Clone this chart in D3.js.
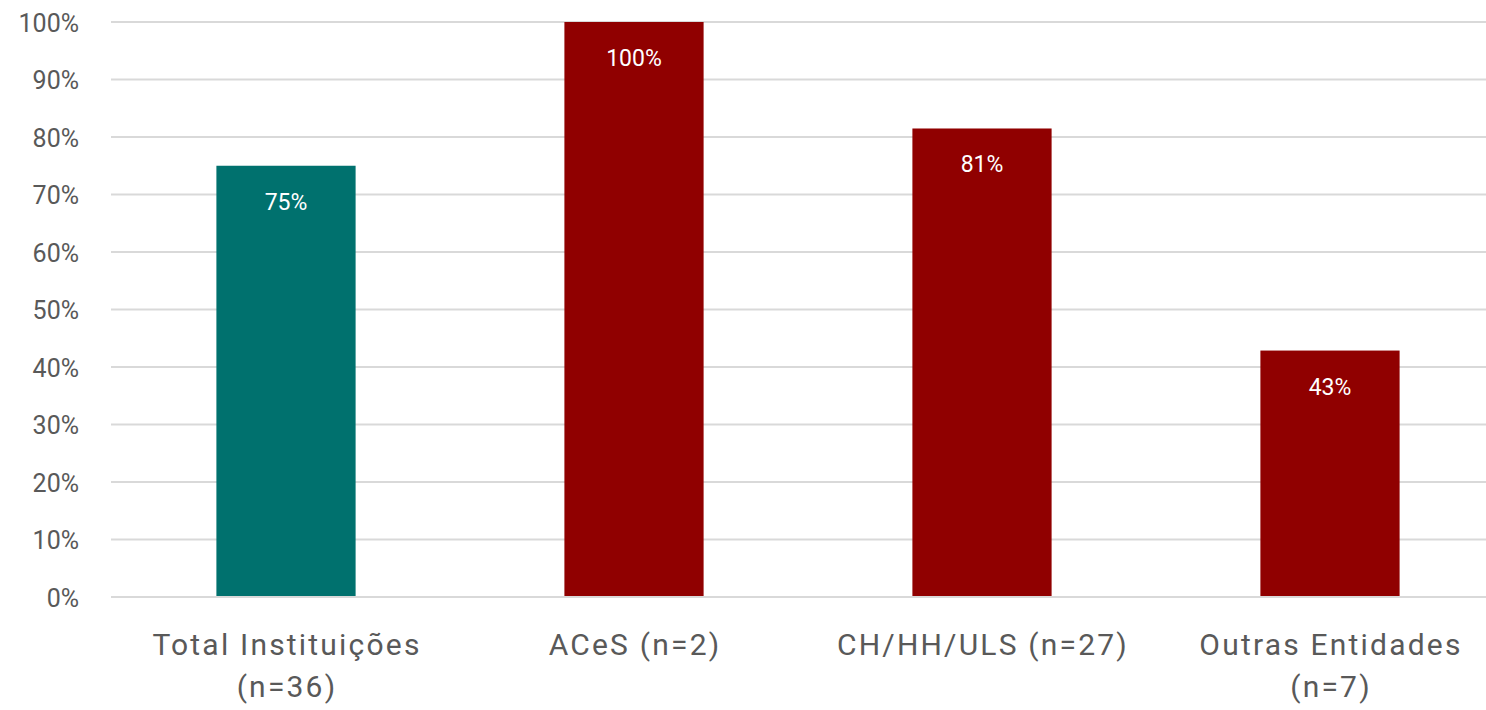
<!DOCTYPE html>
<html>
<head>
<meta charset="utf-8">
<script src="https://cdn.jsdelivr.net/npm/d3@7"></script>
<style>
  html, body { margin: 0; padding: 0; background: #fff; }
  svg { display: block; }
  text { font-family: Roboto, "Open Sans", sans-serif; }
</style>
</head>
<body>
<svg id="chart" width="1486" height="710"></svg>
<script>
// Share of institutions by type (%)
const categories = [
  ["Total Instituições", "(n=36)"],
  ["ACeS (n=2)"],
  ["CH/HH/ULS (n=27)"],
  ["Outras Entidades", "(n=7)"]
];
const values = [75, 100, 81.48, 42.86];
const barColors = ["#00716E", "#900000", "#900000", "#900000"];
const yTicks = [0, 10, 20, 30, 40, 50, 60, 70, 80, 90, 100];

const svg = d3.select("#chart");
const margin = { left: 112, right: -18, top: 22, bottom: 113 };
const width = 1486, height = 710;

const x = d3.scaleBand()
  .domain(d3.range(categories.length))
  .range([margin.left, width - margin.right])
  .paddingInner(0.6)
  .paddingOuter(0.3);

const y = d3.scaleLinear()
  .domain([0, 100])
  .range([height - margin.bottom, margin.top]);

// gridlines
svg.append("g")
  .selectAll("line")
  .data(yTicks)
  .join("line")
  .attr("x1", margin.left - 1)
  .attr("x2", width - margin.right)
  .attr("y1", d => y(d))
  .attr("y2", d => y(d))
  .attr("stroke", "#d9d9d9")
  .attr("stroke-width", 2);

// y axis labels
const yAxis = d3.axisLeft(y)
  .tickValues(yTicks)
  .tickFormat(d => d + "%")
  .tickSize(0)
  .tickPadding(0);
const gy = svg.append("g")
  .attr("transform", `translate(${79},0)`)
  .call(yAxis);
gy.select(".domain").remove();
gy.selectAll("text")
  .attr("fill", "#595959")
  .attr("font-size", 25)
  .attr("dy", "0.36em");

// bars
svg.append("g")
  .selectAll("rect")
  .data(values)
  .join("rect")
  .attr("x", (d, i) => x(i))
  .attr("width", x.bandwidth())
  .attr("y", d => y(d))
  .attr("height", d => y(0) - y(d) - 1)
  .attr("fill", (d, i) => barColors[i]);

// value labels inside bars
svg.append("g")
  .selectAll("text")
  .data(values)
  .join("text")
  .attr("x", (d, i) => x(i) + x.bandwidth() / 2)
  .attr("y", d => y(d) + 44)
  .attr("text-anchor", "middle")
  .attr("fill", "#ffffff")
  .attr("font-size", 23)
  .text(d => Math.round(d) + "%");

// category labels
const cat = svg.append("g")
  .selectAll("text")
  .data(categories)
  .join("text")
  .attr("x", (d, i) => x(i) + x.bandwidth() / 2 + 1)
  .attr("y", 655)
  .attr("text-anchor", "middle")
  .attr("fill", "#595959")
  .attr("font-size", 30)
  .attr("letter-spacing", 2.2);
cat.selectAll("tspan")
  .data(d => d)
  .join("tspan")
  .attr("x", function () { return d3.select(this.parentNode).attr("x"); })
  .attr("dy", (d, i) => i === 0 ? 0 : 42)
  .text(d => d);
</script>
</body>
</html>
